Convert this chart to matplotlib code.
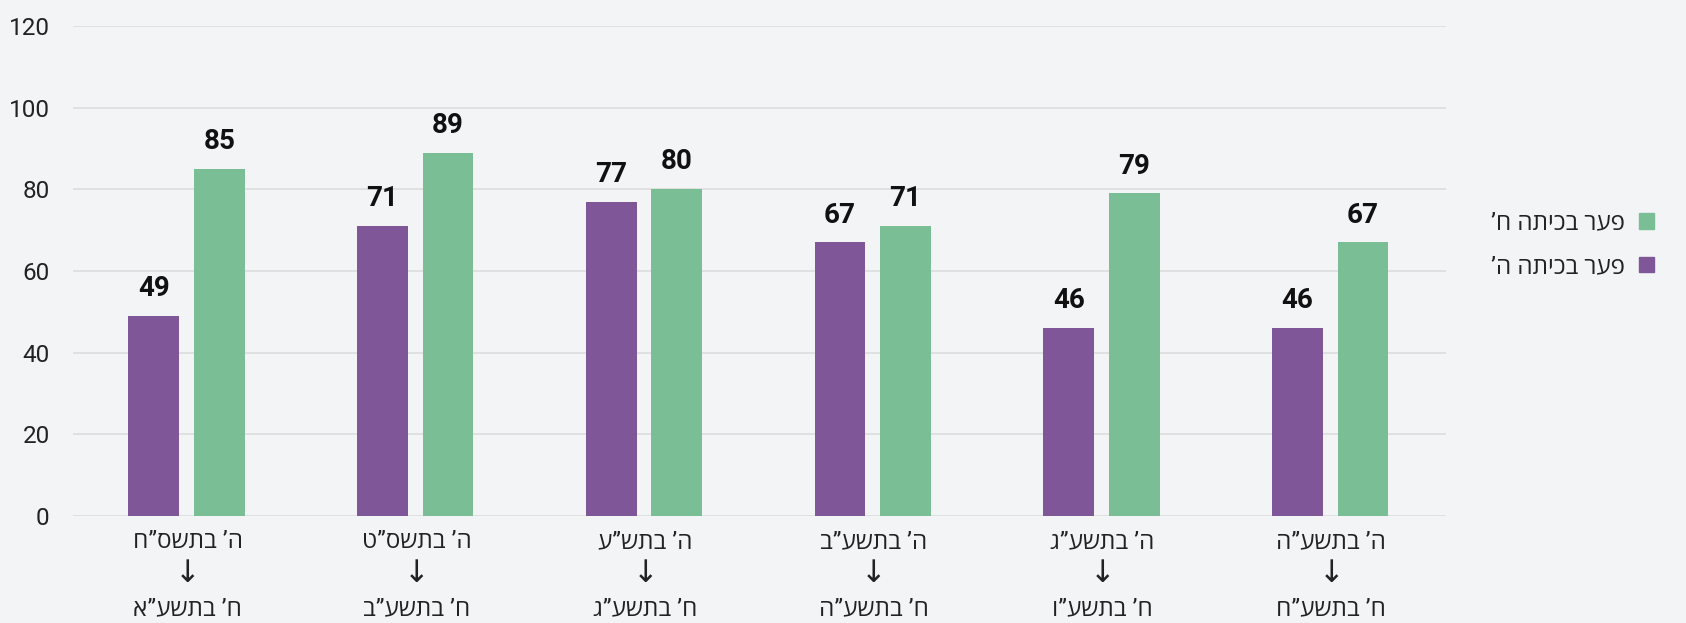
import matplotlib.pyplot as plt
import numpy as np
from matplotlib.patches import Patch

# Data
from_year = ['ה’ בתשס”ח', 'ה’ בתשס”ט', 'ה’ בתש”ע', 'ה’ בתשע”ב', 'ה’ בתשע”ג', 'ה’ בתשע”ה']
to_year = ['ח’ בתשע”א', 'ח’ בתשע”ב', 'ח’ בתשע”ג', 'ח’ בתשע”ה', 'ח’ בתשע”ו', 'ח’ בתשע”ח']
gap_grade5 = [49, 71, 77, 67, 46, 46]
gap_grade8 = [85, 89, 80, 71, 79, 67]
series_names = ['פער בכיתה ה’', 'פער בכיתה ח’']
y_ticks = [0, 20, 40, 60, 80, 100, 120]

PURPLE = '#7f5799'
GREEN = '#79be95'
BG = '#f3f4f6'
HEB = ['Roboto', 'Open Sans', 'DejaVu Sans']


def rtl(s):
    # matplotlib has no bidi support, so reverse Hebrew strings for display
    return s[::-1]


def plot():
    plt.rcParams['font.family'] = HEB

    fig = plt.figure(figsize=(16.86, 6.23), dpi=100, facecolor=BG)
    ax = fig.add_axes([0.0435, 0.1717, 0.8140, 0.7865], facecolor=BG)

    x = np.arange(len(from_year))
    w = 0.222
    b1 = ax.bar(x - 0.148, gap_grade5, width=w, color=PURPLE, zorder=3)
    b2 = ax.bar(x + 0.138, gap_grade8, width=w, color=GREEN, zorder=3)

    for bars in (b1, b2):
        ax.bar_label(bars, padding=10, fontsize=20, fontweight='bold', color='#111111')

    ax.set_xlim(-0.5, len(from_year) - 0.5)
    ax.set_ylim(0, 120)
    ax.set_yticks(y_ticks)
    ax.tick_params(axis='y', length=0, labelsize=17.5, pad=17, labelcolor='#222222')
    ax.grid(axis='y', color='#dcdcdc', linewidth=1.2, zorder=0)
    ax.set_xticks(x)
    ax.set_xticklabels([])
    ax.tick_params(axis='x', length=0)
    for s in ax.spines.values():
        s.set_visible(False)

    # three-line category labels
    trans = ax.get_xaxis_transform()
    for i in x:
        ax.text(i, -0.052, rtl(from_year[i]), transform=trans, ha='center', va='center',
                fontsize=17.5, color='#222222')
        ax.text(i, -0.118, '↓', transform=trans, ha='center', va='center',
                fontsize=22, color='#222222', family=['DejaVu Sans'])
        ax.text(i, -0.19, rtl(to_year[i]), transform=trans, ha='center', va='center',
                fontsize=17.5, color='#222222')

    handles = [Patch(color=GREEN), Patch(color=PURPLE)]
    labels = [rtl(series_names[1]), rtl(series_names[0])]
    fig.legend(handles, labels, loc='center right', bbox_to_anchor=(0.981, 0.607),
               frameon=False, markerfirst=False, fontsize=17.5, handlelength=0.6,
               handleheight=0.6, handletextpad=0.6, labelspacing=0.85,
               borderpad=0, borderaxespad=0, labelcolor='#222222')

    fig.savefig('out.png', dpi=100, facecolor=BG)


if __name__ == '__main__':
    plot()
